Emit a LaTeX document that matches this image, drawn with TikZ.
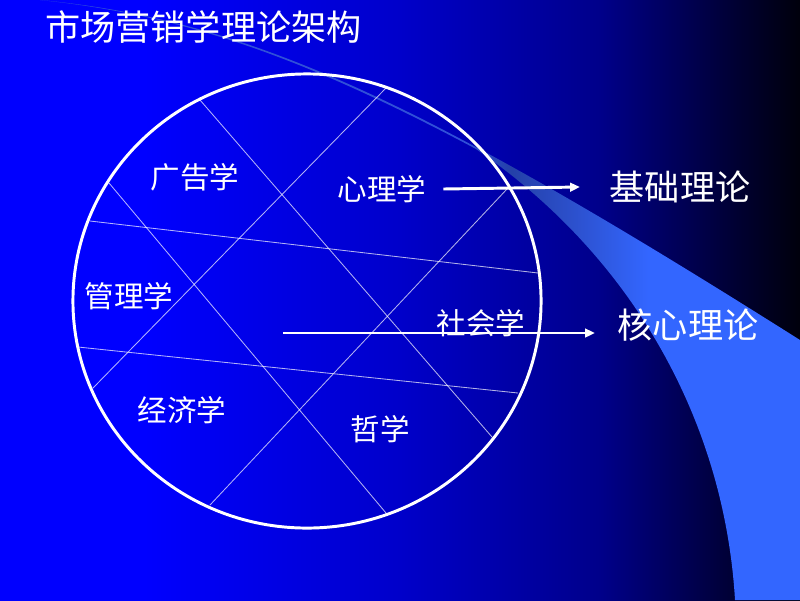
\documentclass[tikz,border=0pt]{standalone}
\usepackage{fontspec}
\usepackage{xcolor}
\usepackage{tikz}
\usetikzlibrary{arrows.meta}
\newfontfamily\cjk{Noto Sans CJK SC}
\definecolor{bgleft}{HTML}{0000FF}
\definecolor{bgmid}{HTML}{0000CA}
\definecolor{bgdark}{HTML}{00008A}
\definecolor{bgdeep}{HTML}{000032}
\definecolor{bgright}{HTML}{00000C}
\definecolor{swtip}{HTML}{3050D8}
\definecolor{swdim}{HTML}{2440A8}
\definecolor{swmid}{HTML}{2C50CC}
\definecolor{swlight}{HTML}{3366FF}
\pgfdeclarehorizontalshading{slidebg}{100bp}{color(0bp)=(bgleft); color(34bp)=(bgleft); color(50bp)=(bgmid); color(62.5bp)=(bgdark); color(71bp)=(bgdeep); color(75bp)=(bgright); color(100bp)=(bgright)}
\pgfdeclarehorizontalshading{swoosh}{100bp}{color(0bp)=(swtip); color(53bp)=(swtip); color(56bp)=(swdim); color(60bp)=(swmid); color(65bp)=(swlight); color(100bp)=(swlight)}

\begin{document}
\begin{tikzpicture}[x=0.025cm, y=-0.025cm,
  lbl/.style={text=white, font=\cjk\fontsize{21pt}{25pt}\selectfont, inner sep=0pt},
  big/.style={text=white, font=\cjk\fontsize{25pt}{30pt}\selectfont, inner sep=0pt},
  divline/.style={draw=white, draw opacity=0.7, line width=0.6pt},
  arr/.style={draw=white, line width=2.1pt, -{Triangle[length=7pt,width=6pt]}}]%
\useasboundingbox (0,0) rectangle (800,600);%
\shade[shading=slidebg] (0,0) rectangle (800,600);%
\shade[shading=swoosh] (40,0) .. controls (178.6,13.2) and (299.8,52.5) .. (475.4,146.8) .. controls (565.9,195.3) and (670.8,258.4) .. (800,340) -- (800,600) -- (735,600) .. controls (725,430) and (640,262) .. (476,149) .. controls (300,55) and (179,14.5) .. (40,0) -- cycle;%
\draw[divline] (200,100) -- (492,437);%
\draw[divline] (109,183) -- (386,513);%
\draw[divline] (386,88) -- (93,388);%
\draw[divline] (507,189) -- (210,505);%
\draw[divline] (90,221) -- (538,273);%
\draw[divline] (78,347) -- (518,393);%
\draw[white, line width=2.1pt] (307,301) ellipse [x radius=5.85cm, y radius=5.675cm];%
\node[big, anchor=west] (title) at (45,27) {市场营销学理论架构};%
\node[lbl] (guanggao) at (195,177) {广告学};%
\node[lbl] (xinli) at (382,189) {心理学};%
\node[lbl] (guanli) at (129,296) {管理学};%
\node[lbl] (shehui) at (481,323) {社会学};%
\node[lbl] (jingji) at (182,410) {经济学};%
\node[lbl] (zhexue) at (380,429) {哲学};%
\node[big] (jichu) at (680,187) {基础理论};%
\node[big] (hexin) at (688,325) {核心理论};%
\coordinate (jichuin) at (580,187);%
\coordinate (hexinfrom) at (283,333);%
\coordinate (hexinin) at (595,333);%
\draw[arr] ([xshift=12pt]xinli.east) -- (jichuin);%
\draw[arr] (hexinfrom) -- (hexinin);%
\end{tikzpicture}
\end{document}
